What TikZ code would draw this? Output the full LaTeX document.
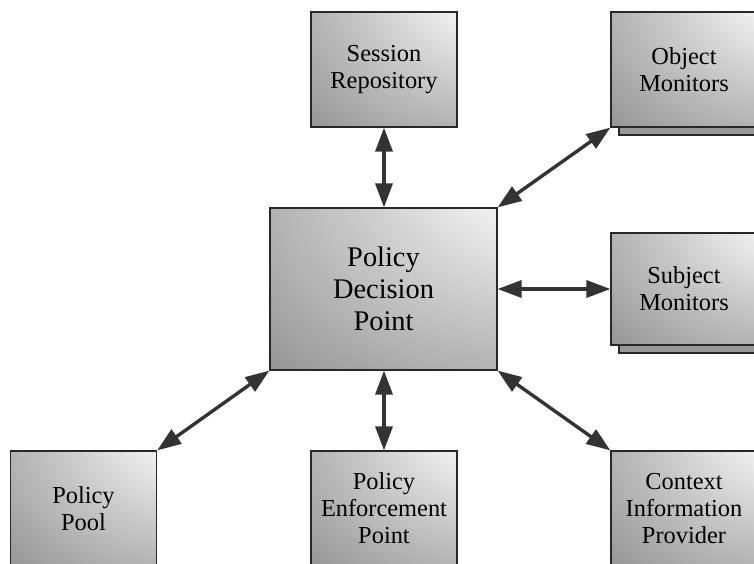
\documentclass[tikz,border=0pt]{standalone}
\usepackage{fontspec}
\setmainfont{Liberation Serif}
\usepackage{tikz}
\usetikzlibrary{arrows.meta,shadows}
\definecolor{boxline}{RGB}{40,40,40}
\definecolor{arrowgray}{RGB}{51,51,51}
\pgfdeclareradialshading{boxshade}{\pgfpoint{50bp}{50bp}}{%
  color(0bp)=(white); color(22bp)=(white!96!black); color(42bp)=(black!20);
  color(80bp)=(black!47); color(115bp)=(black!43); color(150bp)=(black!38)}

\begin{document}
\begin{tikzpicture}[
    x=0.5pt, y=-0.5pt,
    comp/.style={rectangle, draw=boxline, line width=0.6pt, shading=boxshade,
        minimum width=73pt, minimum height=57.5pt, align=center,
        inner sep=2pt, font=\fontsize{12.2}{13.5}\selectfont},
    stack/.style={general shadow={shadow xshift=4pt, shadow yshift=-4pt,
        fill=black!40, draw=boxline, line width=0.6pt}},
    arr/.style={{Triangle[length=12pt,width=8.5pt]}-{Triangle[length=12pt,width=8.5pt]},
        line width=1.7pt, arrowgray}
]
    \useasboundingbox (0,0) rectangle (754,563);
    \clip (0,0) rectangle (754,563);

    % Central decision point
    \node[comp, minimum width=113.5pt, minimum height=81pt,
        font=\fontsize{14.2}{16}\selectfont] (pdp) at (383.5,289) {Policy\\Decision\\Point};

    % Top row
    \node[comp] (sr) at (384,69.5) {Session\\Repository};
    \node[comp, stack] (om) at (684,69.5) {Object\\Monitors};

    % Right
    \node[comp, stack, minimum height=56pt] (sm) at (684,289) {Subject\\Monitors};

    % Bottom row
    \node[comp] (pp) at (83.5,508.5) {Policy\\Pool};
    \node[comp] (pep) at (384,508.5) {Policy\\Enforcement\\Point};
    \node[comp] (cip) at (684,508.5) {Context\\Information\\Provider};

    % Connections
    \draw[arr] (sr.south) -- (sr.south |- pdp.north);
    \draw[arr] (pdp.north east) -- (om.south west);
    \draw[arr] (pdp.east) -- (sm.west);
    \draw[arr] (pdp.south west) -- (pp.north east);
    \draw[arr] (pep.north |- pdp.south) -- (pep.north);
    \draw[arr] (pdp.south east) -- (cip.north west);
\end{tikzpicture}
\end{document}
